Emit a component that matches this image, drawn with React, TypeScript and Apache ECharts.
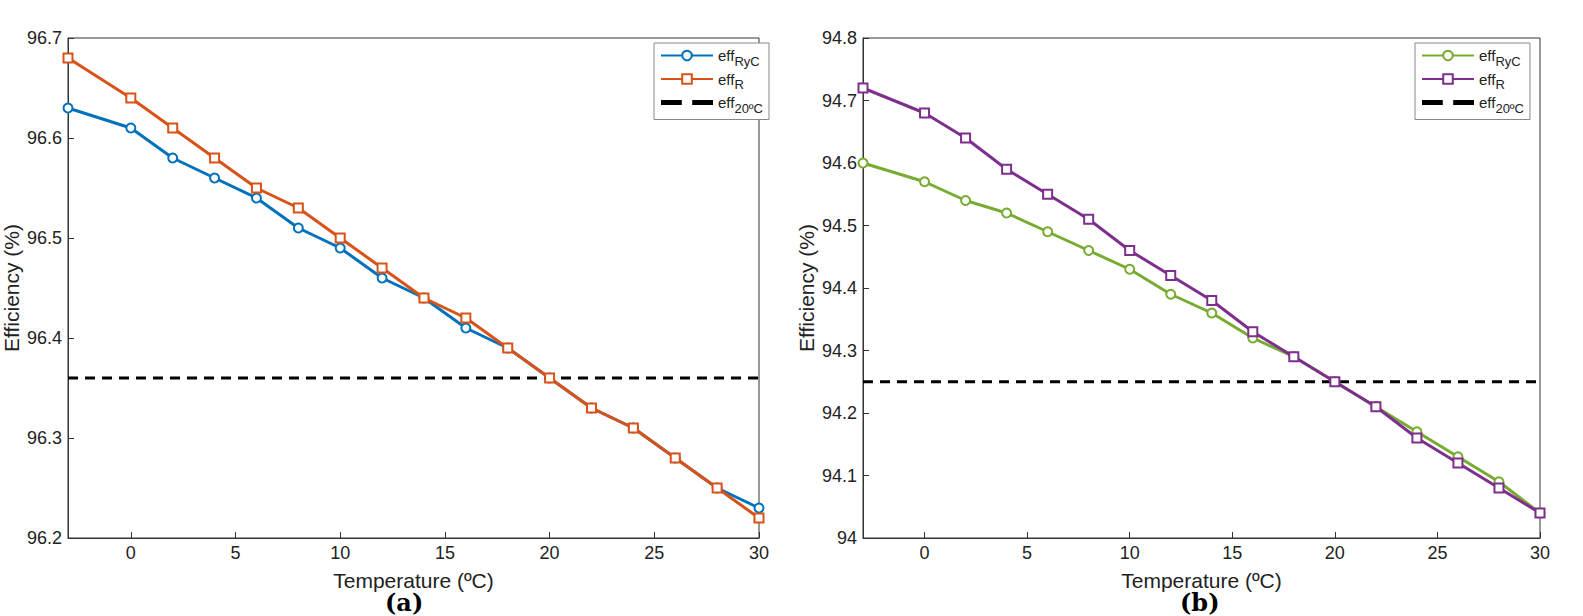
import * as echarts from "echarts";
import { useEffect, useRef } from "react";

const temps = [-3, 0, 2, 4, 6, 8, 10, 12, 14, 16, 18, 20, 22, 24, 26, 28, 30];
const xTicks = [0, 5, 10, 15, 20, 25, 30];
const effRyCA = [96.63, 96.61, 96.58, 96.56, 96.54, 96.51, 96.49, 96.46, 96.44, 96.41, 96.39, 96.36, 96.33, 96.31, 96.28, 96.25, 96.23];
const effRA = [96.68, 96.64, 96.61, 96.58, 96.55, 96.53, 96.5, 96.47, 96.44, 96.42, 96.39, 96.36, 96.33, 96.31, 96.28, 96.25, 96.22];
const ref20A = 96.36;
const effRyCB = [94.6, 94.57, 94.54, 94.52, 94.49, 94.46, 94.43, 94.39, 94.36, 94.32, 94.29, 94.25, 94.21, 94.17, 94.13, 94.09, 94.04];
const effRB = [94.72, 94.68, 94.64, 94.59, 94.55, 94.51, 94.46, 94.42, 94.38, 94.33, 94.29, 94.25, 94.21, 94.16, 94.12, 94.08, 94.04];
const ref20B = 94.25;

const font = "Liberation Sans";

const pairs = (ys: number[]) => temps.map((t, i) => [t, ys[i]]);

const xAxis = (gridIndex: number) => ({
  type: "value",
  gridIndex,
  min: -3,
  max: 30,
  name: "Temperature (ºC)",
  nameLocation: "middle",
  nameGap: 32,
  nameTextStyle: { fontFamily: font, fontSize: 21, color: "#222" },
  axisLine: { show: true, onZero: false, lineStyle: { color: "#333" } },
  axisTick: { inside: true, length: 6, lineStyle: { color: "#333" }, customValues: xTicks },
  axisLabel: { fontFamily: font, fontSize: 18, color: "#222", margin: 6, customValues: xTicks },
  splitLine: { show: false },
});

const yAxis = (gridIndex: number, min: number, max: number) => ({
  type: "value",
  gridIndex,
  min,
  max,
  interval: 0.1,
  name: "Efficiency (%)",
  nameLocation: "middle",
  nameGap: 46,
  nameTextStyle: { fontFamily: font, fontSize: 21, color: "#222" },
  axisLine: { show: true, onZero: false, lineStyle: { color: "#333" } },
  axisTick: { inside: true, length: 6, lineStyle: { color: "#333" } },
  axisLabel: {
    fontFamily: font,
    fontSize: 18,
    color: "#222",
    margin: 6,
    formatter: (v: number) => String(Math.round(v * 10) / 10),
  },
  splitLine: { show: false },
});

const rich = {
  a: { fontFamily: font, fontSize: 15, color: "#222" },
  s: { fontFamily: font, fontSize: 13, color: "#222", padding: [11, 0, 0, 0] },
};

const legendNames: Record<string, string> = {
  RyC: "{a|eff}{s|RyC}",
  R: "{a|eff}{s|R}",
  T: "{a|eff}{s|20ºC}",
};

const legend = (ids: string[], right: number) => ({
  data: ids.map((id, i) => ({
    name: id,
    icon: i === 2 ? "path://M0,0h4v1h-4z M6,0h4v1h-4z M9.6,0h0.4v1h-0.4z" : undefined,
  })),
  top: 43,
  right,
  orient: "vertical",
  itemGap: 4,
  itemWidth: 52,
  itemHeight: 12,
  borderColor: "#888",
  borderWidth: 1,
  padding: [5, 6, 5, 6],
  backgroundColor: "#fff",
  formatter: (n: string) => legendNames[n.replace(/[AB]$/, "")],
  textStyle: { rich },
});

const lineSeries = (name: string, ys: number[], color: string, symbol: string, idx: number) => ({
  name,
  type: "line",
  xAxisIndex: idx,
  yAxisIndex: idx,
  data: pairs(ys),
  symbol,
  symbolSize: 9,
  showSymbol: true,
  lineStyle: { color, width: 3 },
  itemStyle: { color: "#fff", borderColor: color, borderWidth: 2 },
  z: 3,
});

const refSeries = (name: string, v: number, idx: number) => ({
  name,
  type: "line",
  xAxisIndex: idx,
  yAxisIndex: idx,
  data: [
    [-3, v],
    [30, v],
  ],
  symbol: "none",
  lineStyle: { color: "#000", width: 3, type: [10, 7] },
  itemStyle: { color: "#000" },
  z: 2,
});

export default function App() {
  const ref = useRef<HTMLDivElement>(null);

  useEffect(() => {
    document.body.style.margin = "0";
    if (!ref.current) return;
    const chart = echarts.init(ref.current, undefined, { renderer: "svg" });
    chart.setOption({
      animation: false,
      backgroundColor: "#fff",
      grid: [
        { left: 67, right: 824, top: 38, bottom: 78, show: true, borderColor: "#333", backgroundColor: "transparent" },
        { left: 863, right: 43, top: 38, bottom: 78, show: true, borderColor: "#333", backgroundColor: "transparent" },
      ],
      xAxis: [xAxis(0), xAxis(1)],
      yAxis: [yAxis(0, 96.2, 96.7), yAxis(1, 94, 94.8)],
      legend: [legend(["RyCA", "RA", "TA"], 1583 - 769), legend(["RyCB", "RB", "TB"], 53)],
      series: [
        lineSeries("RyCA", effRyCA, "#0072BD", "circle", 0),
        lineSeries("RA", effRA, "#D95319", "rect", 0),
        refSeries("TA", ref20A, 0),
        lineSeries("RyCB", effRyCB, "#77AC30", "circle", 1),
        lineSeries("RB", effRB, "#7E2F8E", "rect", 1),
        refSeries("TB", ref20B, 1),
      ],
      graphic: [
        { type: "text", left: 385, top: 590, style: { text: "(a)", font: "bold 24px 'DejaVu Serif'", fill: "#000" } },
        { type: "text", left: 1180, top: 590, style: { text: "(b)", font: "bold 24px 'DejaVu Serif'", fill: "#000" } },
      ],
    });
    return () => chart.dispose();
  }, []);

  return <div ref={ref} style={{ width: 1583, height: 616 }} />;
}
